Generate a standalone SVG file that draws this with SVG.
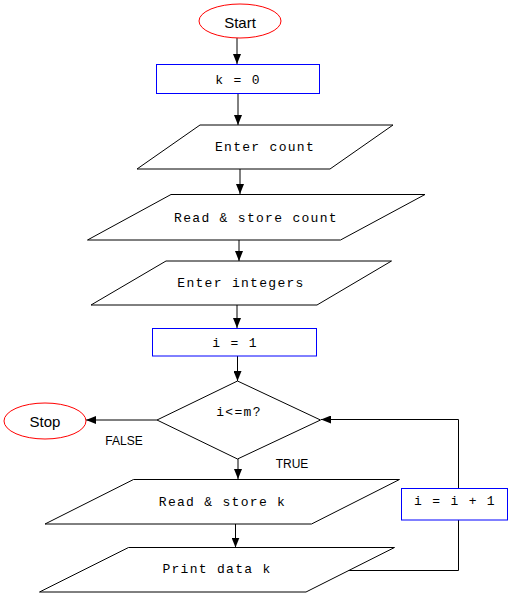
<svg xmlns="http://www.w3.org/2000/svg" width="514" height="599" viewBox="0 0 514 599">
<defs>
<marker id="arr" markerUnits="userSpaceOnUse" markerWidth="10" markerHeight="8" refX="10" refY="4" orient="auto">
<path d="M0,0 L10,4 L0,8 Z" fill="#000"/>
</marker>
</defs>
<style>
.term{fill:#fff;stroke:#ff0000;stroke-width:1}
.proc{fill:#fff;stroke:#0000ff;stroke-width:1}
.io{fill:#fff;stroke:#000;stroke-width:1}
.mono{font-family:"Liberation Mono","Courier New",monospace;font-size:13px;letter-spacing:1.3px;fill:#000;text-anchor:middle}
.sans{font-family:"Liberation Sans",Arial,sans-serif;fill:#000;text-anchor:middle}
.conn{fill:none;stroke:#000;stroke-width:1}
</style>
<rect width="514" height="599" fill="#fff"/>
<g id="connectors">
<line class="conn" x1="237" y1="38" x2="237" y2="64" marker-end="url(#arr)"/>
<line class="conn" x1="238" y1="93" x2="238" y2="125" marker-end="url(#arr)"/>
<line class="conn" x1="240" y1="169" x2="240" y2="194" marker-end="url(#arr)"/>
<line class="conn" x1="239" y1="240" x2="239" y2="261" marker-end="url(#arr)"/>
<line class="conn" x1="237" y1="305" x2="237" y2="328" marker-end="url(#arr)"/>
<line class="conn" x1="237.5" y1="356" x2="237.5" y2="381" marker-end="url(#arr)"/>
<line class="conn" x1="157" y1="420" x2="86" y2="420" marker-end="url(#arr)"/>
<line class="conn" x1="238" y1="459" x2="238" y2="479" marker-end="url(#arr)"/>
<line class="conn" x1="235.5" y1="524" x2="235.5" y2="547.5" marker-end="url(#arr)"/>
<polyline class="conn" points="346.5,570.5 458.5,570.5 458.5,520"/>
<polyline class="conn" points="458.5,488 458.5,419.5 321,419.5" marker-end="url(#arr)"/>
<text class="sans" x="124" y="445" font-size="12">FALSE</text>
<text class="sans" x="292" y="468" font-size="12">TRUE</text>
</g>
<g id="start">
<ellipse class="term" cx="240" cy="21" rx="41" ry="17"/>
<text class="sans" x="240" y="28" font-size="15">Start</text>
</g>
<g id="k0">
<rect class="proc" x="156.5" y="64.5" width="163" height="29"/>
<text class="mono" x="238" y="84">k = 0</text>
</g>
<g id="enter-count">
<polygon class="io" points="200,125 393,125 330,169 137,169"/>
<text class="mono" x="265" y="151">Enter count</text>
</g>
<g id="read-count">
<polygon class="io" points="171,194.5 425,194.5 340.5,240 87.5,240"/>
<text class="mono" x="256" y="222">Read &amp; store count</text>
</g>
<g id="enter-integers">
<polygon class="io" points="166,261 391.5,261 317,305 91,305"/>
<text class="mono" x="241" y="287">Enter integers</text>
</g>
<g id="i1">
<rect class="proc" x="152.5" y="328.5" width="164" height="27.5"/>
<text class="mono" x="235" y="347">i = 1</text>
</g>
<g id="decision">
<polygon class="io" points="237.5,381 320.5,420 237.5,459 157,420"/>
<text class="mono" x="239" y="416">i&lt;=m?</text>
</g>
<g id="stop">
<ellipse class="term" cx="45" cy="421" rx="41" ry="18"/>
<text class="sans" x="45" y="427" font-size="15">Stop</text>
</g>
<g id="read-k">
<polygon class="io" points="133.5,479.5 399.5,479.5 311.5,524 45,524"/>
<text class="mono" x="222.5" y="506">Read &amp; store k</text>
</g>
<g id="print-k">
<polygon class="io" points="128.5,547.5 394.5,547.5 306,592 39.5,592"/>
<text class="mono" x="217" y="573">Print data k</text>
</g>
<g id="inc">
<rect class="proc" x="401.5" y="488.5" width="106" height="31.5"/>
<text class="mono" x="455" y="505">i = i + 1</text>
</g>
</svg>
